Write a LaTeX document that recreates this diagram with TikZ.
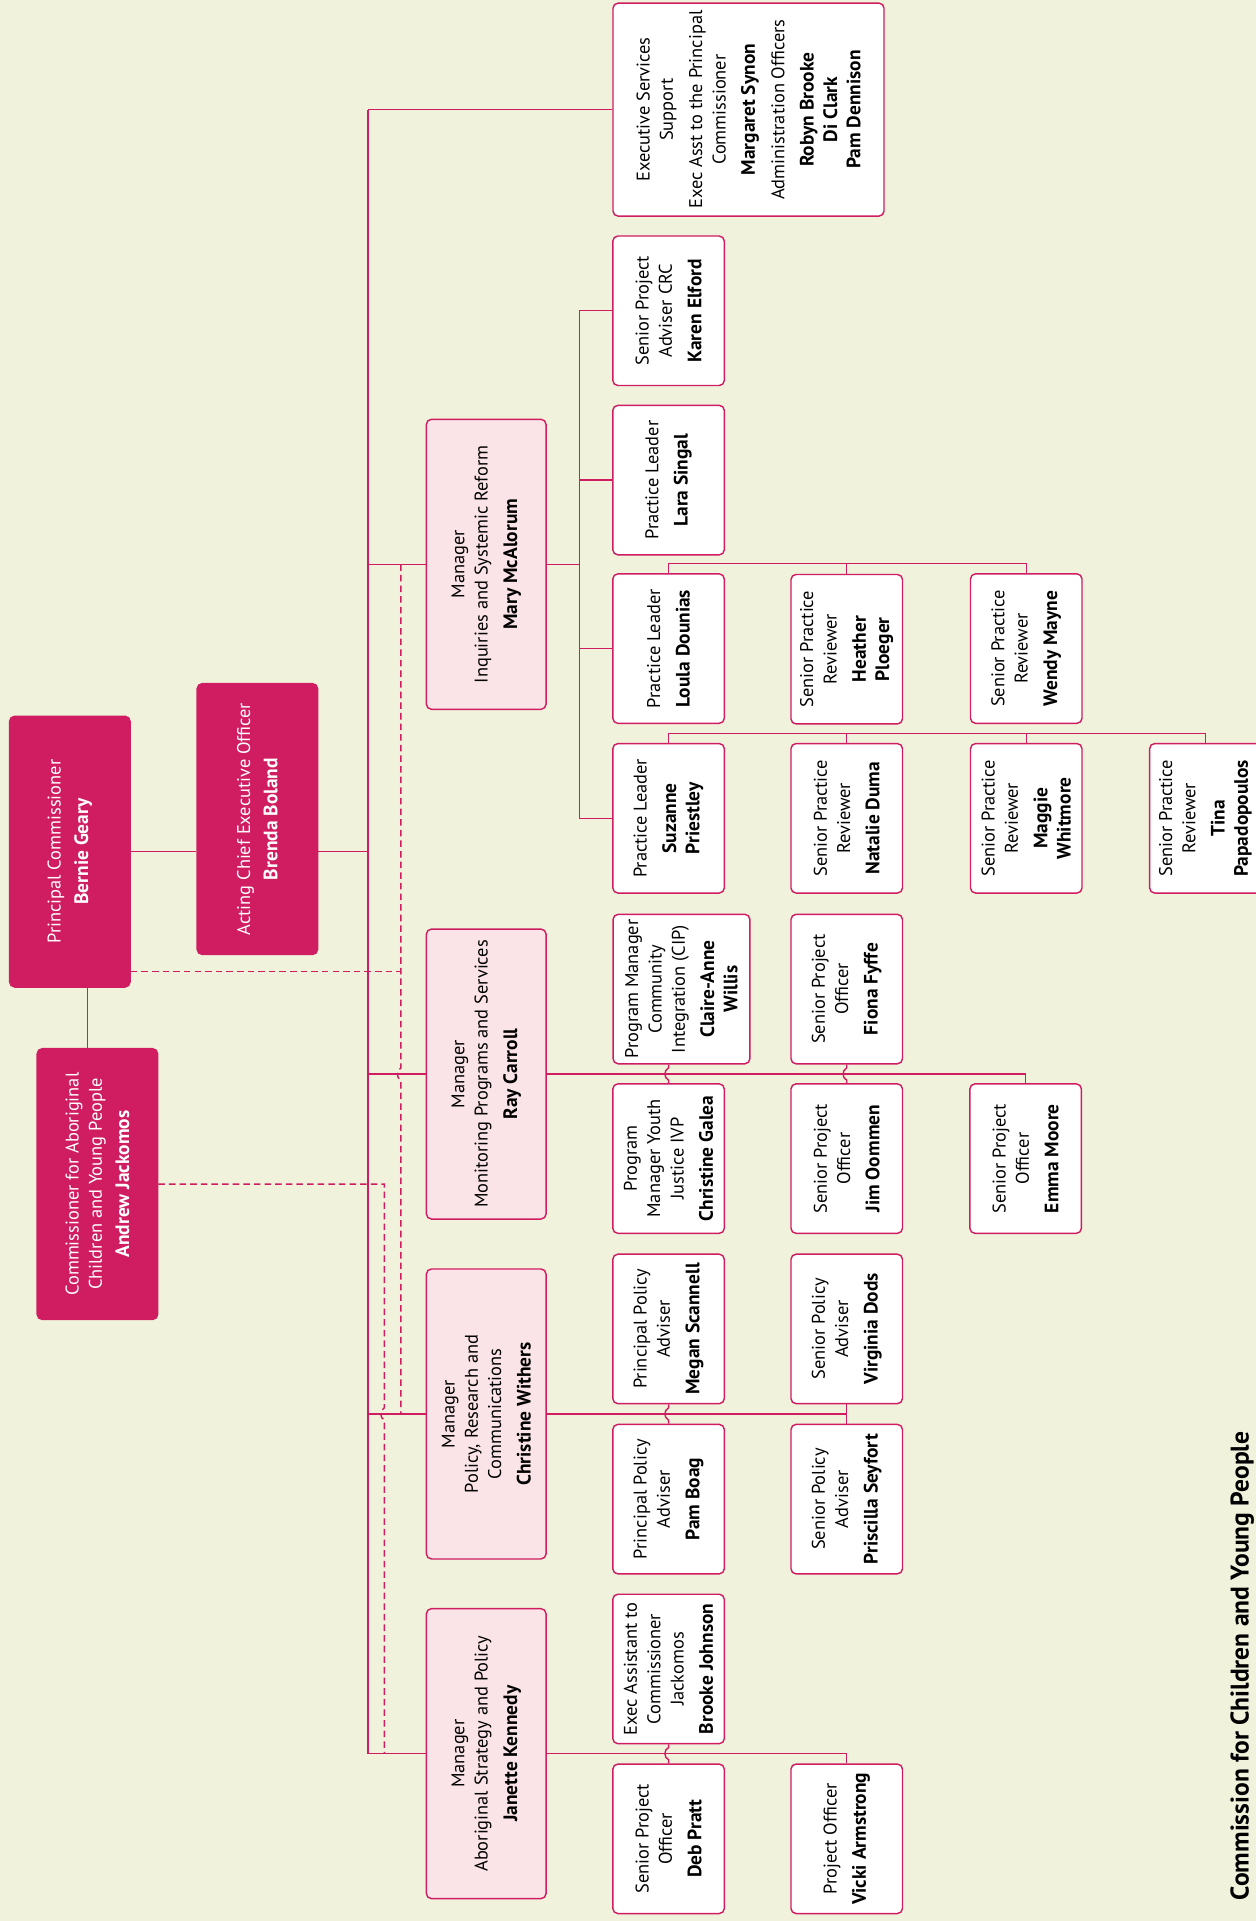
\documentclass[tikz,border=0pt]{standalone}
\usepackage{fontspec}
\setmainfont{PT Sans}
\usetikzlibrary{calc}
\definecolor{bgc}{RGB}{240,242,220}
\definecolor{mag}{RGB}{208,28,97}
\definecolor{pinkfill}{RGB}{250,228,232}
\newcommand\bfont{\fontsize{9}{11.4}\selectfont}
\newcommand\nm[1]{{\fontsize{9.5}{11.4}\selectfont\bfseries #1}}
\newcommand\hopdraw[4]{\draw[#1] #2 -- ($(#3)+(0,-5)$) .. controls ($(#3)+(-4,-3)$) and ($(#3)+(-4,3)$) .. ($(#3)+(0,5)$) #4;}
\tikzset{
  boxbase/.style={rotate=90, draw=mag, line width=0.7pt, rounded corners=2.5pt, align=center, inner sep=1pt, font=\bfont},
  topbox/.style={boxbase, fill=mag, text=white, minimum width=132.6pt, minimum height=59pt},
  execbox/.style={boxbase, fill=white, minimum width=104.3pt, minimum height=132.7pt},
  mgrbox/.style={boxbase, fill=pinkfill, minimum width=142pt, minimum height=58.6pt},
  staffbox/.style={boxbase, fill=white, minimum width=73.2pt, minimum height=54.6pt},
  wideb/.style={staffbox, minimum height=67pt},
  conn/.style={draw=mag, line width=0.7pt},
  dsh/.style={draw=mag, line width=0.7pt, dash pattern=on 3.2pt off 2pt},
}
\begin{document}
\begin{tikzpicture}[x=0.6pt, y=-0.6pt]
\fill[bgc] (0,0) rectangle (1025,1567.7);
\useasboundingbox (0,0) rectangle (1025,1567.7);

% helper coordinates
\coordinate (tk) at (300.4,0);
\coordinate (d1) at (327.2,0);
\coordinate (d2) at (313.7,0);
\coordinate (mvx) at (472.7,0);
\coordinate (pcb) at (71.5,0);
\coordinate (pcd) at (0,792.7);
\coordinate (bar1) at (0,460);
\coordinate (bar2) at (0,598.5);

% top level
\node[topbox] (pc) at (57,695) {Principal Commissioner\\[2pt]\nm{Bernie Geary}};
\node[topbox] (aceo) at (210.05,668.4) {Acting Chief Executive Officer\\[2pt]\nm{Brenda Boland}};
\node[topbox] (cacyp) at (79.5,966.3) {Commissioner for Aboriginal\\Children and Young People\\[2pt]\nm{Andrew Jackomos}};

\node[execbox] (exec) at (610.85,89.45) {Executive Services\\Support\\[3pt]Exec Asst to the Principal\\Commissioner\\[3pt]\nm{Margaret Synon}\\[3pt]Administration Officers\\[3pt]\nm{Robyn Brooke}\\\nm{Di Clark}\\\nm{Pam Dennison}};

% managers
\node[mgrbox] (mary) at (396.8,460.5) {Manager\\Inquiries and Systemic Reform\\[3pt]\nm{Mary McAlorum}};
\node[mgrbox] (ray) at (396.8,876.5) {Manager\\Monitoring Programs and Services\\[3pt]\nm{Ray Carroll}};
\node[mgrbox] (cw) at (396.8,1153.9) {Manager\\Policy, Research and\\Communications\\[3pt]\nm{Christine Withers}};
\node[mgrbox] (jk) at (396.8,1431.1) {Manager\\Aboriginal Strategy and Policy\\[3pt]\nm{Janette Kennedy}};

% staff: Mary
\node[staffbox] (karen) at (545.6,253.6) {Senior Project\\Adviser CRC\\[3pt]\nm{Karen Elford}};
\node[staffbox] (lara) at (545.6,391.8) {Practice Leader\\[3pt]\nm{Lara Singal}};
\node[staffbox] (loula) at (545.6,529.3) {Practice Leader\\[3pt]\nm{Loula Dounias}};
\node[staffbox] (heather) at (691,529.8) {Senior Practice\\Reviewer\\[3pt]\nm{Heather}\\\nm{Ploeger}};
\node[staffbox] (wendy) at (837.5,529.3) {Senior Practice\\Reviewer\\[3pt]\nm{Wendy Mayne}};
\node[staffbox] (suzanne) at (545.6,667.8) {Practice Leader\\[3pt]\nm{Suzanne}\\\nm{Priestley}};
\node[staffbox] (natalie) at (691,667.8) {Senior Practice\\Reviewer\\[3pt]\nm{Natalie Duma}};
\node[staffbox] (maggie) at (837.5,667.8) {Senior Practice\\Reviewer\\[3pt]\nm{Maggie}\\\nm{Whitmore}};
\node[staffbox] (tina) at (983.7,667.8) {Senior Practice\\Reviewer\\[3pt]\nm{Tina}\\\nm{Papadopoulos}};

% staff: Ray
\node[wideb] (claire) at (556.15,807.15) {Program Manager\\Community\\Integration (CIP)\\[3pt]\nm{Claire-Anne}\\\nm{Willis}};
\node[staffbox] (fiona) at (691,807.15) {Senior Project\\Officer\\[3pt]\nm{Fiona Fyffe}};
\node[staffbox] (galea) at (545.6,945.5) {Program\\Manager Youth\\Justice IVP\\[3pt]\nm{Christine Galea}};
\node[staffbox] (jim) at (691,945.5) {Senior Project\\Officer\\[3pt]\nm{Jim Oommen}};
\node[staffbox] (emma) at (837,945.5) {Senior Project\\Officer\\[3pt]\nm{Emma Moore}};

% staff: Christine Withers
\node[staffbox] (megan) at (545.6,1084.5) {Principal Policy\\Adviser\\[3pt]\nm{Megan Scannell}};
\node[staffbox] (virginia) at (691,1084.5) {Senior Policy\\Adviser\\[3pt]\nm{Virginia Dods}};
\node[staffbox] (pamb) at (545.6,1223.4) {Principal Policy\\Adviser\\[3pt]\nm{Pam Boag}};
\node[staffbox] (priscilla) at (691,1223.4) {Senior Policy\\Adviser\\[3pt]\nm{Priscilla Seyfort}};

% staff: Janette Kennedy
\node[staffbox] (brooke) at (545.6,1362) {Exec Assistant to\\Commissioner\\Jackomos\\[3pt]\nm{Brooke Johnson}};
\node[staffbox] (deb) at (545.6,1500.6) {Senior Project\\Officer\\[3pt]\nm{Deb Pratt}};
\node[staffbox] (vicki) at (691,1500.6) {Project Officer\\[3pt]\nm{Vicki Armstrong}};

% title
\node[rotate=90, anchor=base, font=\fontsize{12.5}{14}\selectfont\bfseries, inner sep=0pt] (title) at (1019,1359.5) {Commission for Children and Young People};

% solid connectors, top level
\draw[conn] (pc.south) -- (aceo.north |- pc.south);
\draw[conn] (aceo.south |- pc.south) -- (tk |- pc.south);
\draw[conn] (pcb |- pc.west) -- (pcb |- cacyp.east);
\draw[conn] (tk |- exec.north) -- (tk |- jk.north);
\draw[conn] (tk |- exec.north) -- (exec.north);
\draw[conn] (tk |- mary.north) -- (mary.north);
\draw[conn] (tk |- ray.north) -- (ray.north);
\draw[conn] (tk |- cw.north) -- (cw.north);
\draw[conn] (tk |- jk.north) -- (jk.north);

% Mary
\draw[conn] (mary.south) -- (mvx |- mary.south);
\draw[conn] (mvx |- karen.north) -- (mvx |- suzanne.north);
\draw[conn] (mvx |- karen.north) -- (karen.north);
\draw[conn] (mvx |- lara.north) -- (lara.north);
\draw[conn] (mvx |- loula.north) -- (loula.north);
\draw[conn] (mvx |- suzanne.north) -- (suzanne.north);
\draw[conn] (loula.east) -- (loula.east |- bar1) -| (wendy.east);
\draw[conn] (heather.east |- bar1) -- (heather.east);
\draw[conn] (suzanne.east) -- (suzanne.east |- bar2) -| (tina.east);
\draw[conn] (natalie.east |- bar2) -- (natalie.east);
\draw[conn] (maggie.east |- bar2) -- (maggie.east);

% Ray
\draw[conn] (ray.south) -- (emma.east |- ray.south) -- (emma.east);
\hopdraw{conn}{(galea.east |- claire.west)}{galea.east |- ray.south}{-- (galea.east)}
\hopdraw{conn}{(jim.east |- fiona.west)}{jim.east |- ray.south}{-- (jim.east)}

% Christine Withers
\draw[conn] (cw.south) -- (virginia.west |- cw.south);
\draw[conn] (virginia.west) -- (priscilla.east);
\hopdraw{conn}{(pamb.east |- megan.west)}{pamb.east |- cw.south}{-- (pamb.east)}

% Janette Kennedy
\draw[conn] (jk.south) -- (vicki.east |- jk.south) -- (vicki.east);
\hopdraw{conn}{(deb.east |- brooke.west)}{deb.east |- jk.south}{-- (deb.east)}

% dashed lines
\draw[dsh] (pc.south |- pcd) -- (d1 |- pcd);
\hopdraw{dsh}{(d1 |- mary.north)}{d1 |- ray.north}{-- (d1 |- cw.north)}
\hopdraw{dsh}{(cacyp.south) -- (d2 |- cacyp.south)}{d2 |- cw.north}{-- (d2 |- jk.north)}
\end{tikzpicture}
\end{document}
